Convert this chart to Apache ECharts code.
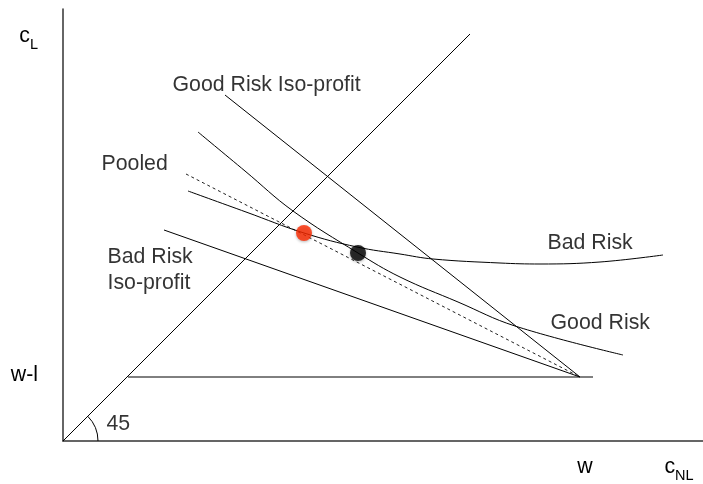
<!DOCTYPE html>
<html><head><meta charset="utf-8">
<script src="https://cdn.jsdelivr.net/npm/echarts@6/dist/echarts.min.js"></script>
<style>html,body{margin:0;padding:0;background:#fff}#c{width:703px;height:484px}</style>
</head><body><div id="c"></div>
<script>
// Diagram units: origin at the axes' crossing (c_NL, c_L)
const xTickValues = [522, 616];
const xTickMain = ['w', 'c'];
const xTickSub = ['', 'NL'];
const yTickValues = [66, 405];
const yTickMain = ['w-l', 'c'];
const yTickSub = ['', 'L'];

const diagonal45 = [[0, 0], [407, 407]];
const wealthLine = [[65, 64], [530, 64]];
const goodIsoProfit = [[162, 346], [517, 64]];
const badIsoProfit = [[101, 211], [517, 64]];
const pooledLine = [[123, 267], [517, 64]];
const goodRiskCurve = [[135, 309], [182, 270], [230, 230], [295, 188], [337, 164], [395, 139], [452, 115], [560, 86]];
const badRiskCurve = [[125, 250], [183, 229], [241, 208], [294, 194], [337, 187], [370, 182], [437, 178], [477, 177], [537, 179], [600, 186]];
const pooledPoint = [[241, 208]];
const separatingPoint = [[295, 188]];
const angleVertex = [[0, 0]];
const annotationText = ['Good Risk Iso-profit', 'Pooled', 'Bad Risk\nIso-profit', 'Bad Risk', 'Good Risk', '45'];
const annotationAt = [[110, 355.5], [39, 276.5], [45, 170.5], [485, 197], [488, 117.5], [44, 16]];

const FONT = '"Liberation Sans", Arial, Helvetica, sans-serif';
const rich = {
  m: { fontSize: 21.3, lineHeight: 32, color: '#000', fontFamily: FONT },
  s: { fontSize: 14.5, lineHeight: 14, verticalAlign: 'bottom', color: '#000', fontFamily: FONT }
};
function tickFmt(values, mains, subs) {
  return function (v) {
    const i = values.indexOf(v);
    if (i < 0) return '';
    return '{m|' + mains[i] + '}' + (subs[i] ? '{s|' + subs[i] + '}' : '');
  };
}
const axisLineStyle = { color: '#333', width: 1.5 };
const thin = { color: '#000', width: 1 };
function lineSeries(name, data, extra) {
  return Object.assign({
    name, type: 'line', data, showSymbol: false, symbol: 'none',
    lineStyle: thin, silent: true, z: 2
  }, extra || {});
}

const chart = echarts.init(document.getElementById('c'), null, { renderer: 'canvas' });
chart.setOption({
  animation: false,
  backgroundColor: '#fff',
  grid: { left: 63, right: 0, top: 9, bottom: 43, containLabel: false, outerBoundsMode: 'none' },
  xAxis: {
    type: 'value', min: 0, max: 640,
    splitLine: { show: false },
    axisLine: { show: true, onZero: false, lineStyle: axisLineStyle },
    axisTick: { show: false },
    axisLabel: {
      show: true, customValues: xTickValues, margin: 10,
      formatter: tickFmt(xTickValues, xTickMain, xTickSub), rich
    }
  },
  yAxis: {
    type: 'value', min: 0, max: 432,
    splitLine: { show: false },
    axisLine: { show: true, onZero: false, lineStyle: axisLineStyle },
    axisTick: { show: false },
    axisLabel: {
      show: true, customValues: yTickValues, margin: 25,
      formatter: tickFmt(yTickValues, yTickMain, yTickSub), rich
    }
  },
  series: [
    lineSeries('45 degree line', diagonal45),
    lineSeries('w-l', wealthLine),
    lineSeries('Good Risk Iso-profit', goodIsoProfit),
    lineSeries('Bad Risk Iso-profit', badIsoProfit),
    lineSeries('Pooled', pooledLine, { lineStyle: { color: '#222', width: 1, type: [3, 3] } }),
    lineSeries('Good Risk', goodRiskCurve, { smooth: 0.4 }),
    lineSeries('Bad Risk', badRiskCurve, { smooth: 0.4 }),
    {
      type: 'custom', coordinateSystem: 'cartesian2d', data: angleVertex, silent: true, z: 3,
      renderItem(params, api) {
        const c = api.coord([api.value(0), api.value(1)]);
        const r = api.size([35, 0])[0];
        return {
          type: 'arc',
          shape: { cx: c[0], cy: c[1], r, startAngle: -Math.PI / 4, endAngle: 0, clockwise: true },
          style: { stroke: '#000', fill: null, lineWidth: 1 }
        };
      }
    },
    {
      name: 'Pooled equilibrium', type: 'scatter', data: pooledPoint, symbol: 'circle', symbolSize: 16, silent: true, z: 5,
      itemStyle: { color: '#FF2A00', shadowBlur: 3, shadowColor: 'rgba(0,0,0,0.35)', shadowOffsetY: 1 }
    },
    {
      name: 'Separating equilibrium', type: 'scatter', data: separatingPoint, symbol: 'circle', symbolSize: 16, silent: true, z: 5,
      itemStyle: { color: '#000', shadowBlur: 3, shadowColor: 'rgba(0,0,0,0.35)', shadowOffsetY: 1 }
    },
    {
      name: 'annotations', type: 'scatter', silent: true, z: 6,
      symbol: 'circle', symbolSize: 1, itemStyle: { color: 'rgba(0,0,0,0)' },
      data: annotationAt.map((p, i) => ({ value: p, name: annotationText[i] })),
      label: {
        show: true, position: [0, 0], align: 'left', verticalAlign: 'middle',
        formatter: '{b}', fontSize: 21.3, lineHeight: 26, color: '#000', fontFamily: FONT
      }
    }
  ]
});
</script></body></html>
